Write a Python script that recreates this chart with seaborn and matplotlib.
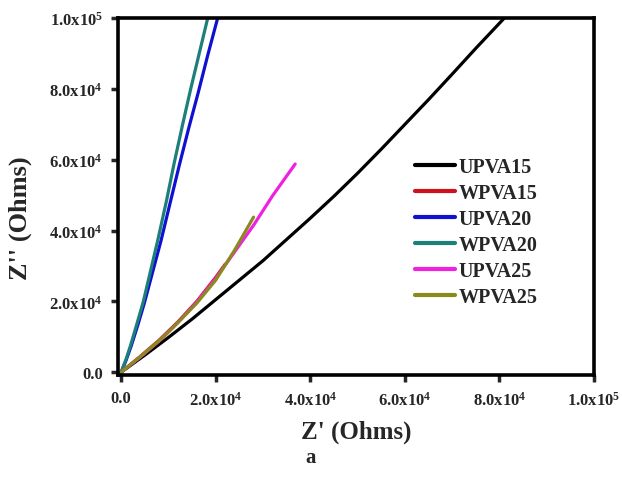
import matplotlib
matplotlib.use("Agg")
import matplotlib.pyplot as plt
import seaborn as sns
import pandas as pd

# impedance data (Z', Z'' in Ohms)
upva15_x = [0, 5000, 10000, 15000, 20000, 25000, 30000, 35000, 40000, 45000, 50000, 55000, 60000, 65000, 70000, 75000, 81000]
upva15_y = [0, 4800, 9800, 15000, 20500, 26000, 31500, 37500, 43500, 49700, 56200, 63000, 70000, 77000, 84200, 91500, 100000]
wpva15_x = [0, 4000, 8000, 12000, 16000, 20000, 22000]
wpva15_y = [0, 4400, 9000, 14200, 20000, 26800, 30500]
upva20_x = [0, 1000, 2100, 3500, 4900, 6500, 8400, 10300, 12300, 14300, 16300, 18300, 20400]
upva20_y = [0, 3200, 7300, 13200, 19500, 27500, 37000, 47500, 58500, 69000, 79000, 89500, 100000]
wpva20_x = [0, 1000, 2000, 3300, 4700, 6200, 7800, 9600, 11200, 13000, 14700, 16500, 18300]
wpva20_y = [0, 3500, 7600, 13500, 20000, 28500, 37600, 48500, 59000, 70000, 80000, 90000, 100000]
upva25_x = [0, 4000, 8400, 12000, 16000, 20000, 24000, 28000, 32000, 36800]
upva25_y = [0, 4200, 9200, 14000, 19800, 26500, 34000, 41500, 49800, 58800]
wpva25_x = [0, 4000, 8400, 12000, 16000, 20000, 24000, 28000]
wpva25_y = [0, 4300, 9300, 14000, 19500, 26000, 34500, 43800]

names = ["UPVA15", "WPVA15", "UPVA20", "WPVA20", "UPVA25", "WPVA25"]
colors = ["#000000", "#d0101a", "#1010d0", "#1c7f7a", "#f020e0", "#8a8a1e"]
xs = [upva15_x, wpva15_x, upva20_x, wpva20_x, upva25_x, wpva25_x]
ys = [upva15_y, wpva15_y, upva20_y, wpva20_y, upva25_y, wpva25_y]

xticks = [0, 20000, 40000, 60000, 80000, 100000]
xticklabels = ["0.0", r"2.0x10$^{4}$", r"4.0x10$^{4}$", r"6.0x10$^{4}$", r"8.0x10$^{4}$", r"1.0x10$^{5}$"]
yticks = [0, 20000, 40000, 60000, 80000, 100000]
yticklabels = ["0.0", r"2.0x10$^{4}$", r"4.0x10$^{4}$", r"6.0x10$^{4}$", r"8.0x10$^{4}$", r"1.0x10$^{5}$"]

rows = []
for n, xx, yy in zip(names, xs, ys):
    for a, b in zip(xx, yy):
        rows.append({"zr": a, "zi": b, "sample": n})
df = pd.DataFrame(rows)

sns.set_style("white")
plt.rcParams["font.family"] = ["Liberation Serif", "DejaVu Serif"]
plt.rcParams["font.weight"] = "bold"
plt.rcParams["mathtext.fontset"] = "custom"
plt.rcParams["mathtext.rm"] = "Liberation Serif:bold"
plt.rcParams["mathtext.it"] = "Liberation Serif:bold"
plt.rcParams["mathtext.bf"] = "Liberation Serif:bold"

fig = plt.figure(figsize=(6.22, 4.81), dpi=100)
ax = fig.add_axes([0.190, 0.218, 0.765, 0.742])

sns.lineplot(data=df, x="zr", y="zi", hue="sample", hue_order=names,
             palette=colors, sort=False, estimator=None, linewidth=2.3, ax=ax)

ax.set_xlim(-630, 100000)
ax.set_ylim(-850, 100000)
ax.set_xticks(xticks)
ax.set_xticklabels(xticklabels, fontsize=12, fontweight="bold")
ax.set_yticks(yticks)
ax.set_yticklabels(yticklabels, fontsize=12, fontweight="bold")
ax.tick_params(axis="both", direction="out", length=5, width=2.5, pad=6,
               bottom=True, left=True, top=False, right=False)
for s in ax.spines.values():
    s.set_linewidth(2.6)
    s.set_color("black")

ax.set_xlabel("Z' (Ohms)", fontsize=18, fontweight="bold")
ax.set_ylabel("Z'' (Ohms)", fontsize=19, fontweight="bold")
ax.xaxis.set_label_coords(0.5, -0.157)
ax.xaxis.label.set_va("center")
ax.yaxis.set_label_coords(-0.206, 0.443)
ax.yaxis.label.set_va("center")

leg = ax.legend(loc="upper left", bbox_to_anchor=(0.624, 0.611), frameon=False,
                borderpad=0, borderaxespad=0,
                prop={"family": "Liberation Serif", "weight": "bold", "size": 14.5},
                handlelength=2.0, handletextpad=0.15, labelspacing=0.3)
for h in leg.get_lines():
    h.set_linewidth(3)

fig.text(311 / 622, 1 - 458 / 481, "a", ha="center", va="center",
         fontsize=15, fontweight="bold")

fig.savefig("out.png", dpi=100)
